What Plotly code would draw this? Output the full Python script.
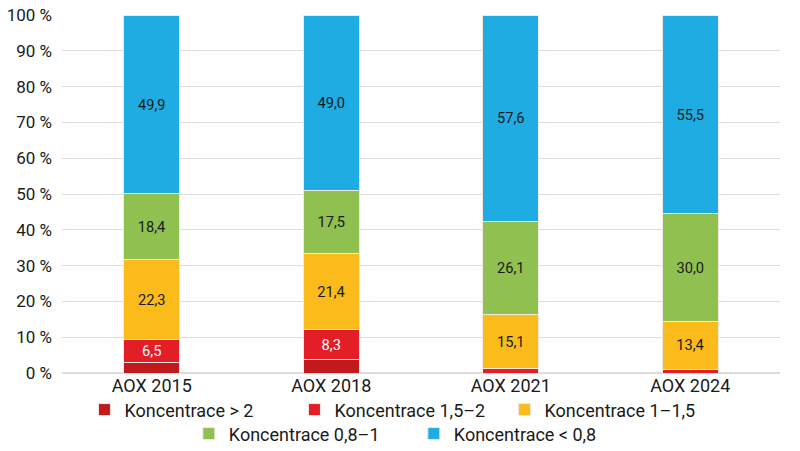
import plotly.graph_objects as go

# podíly koncentrací AOX v jednotlivých letech (%)
roky = ["AOX 2015", "AOX 2018", "AOX 2021", "AOX 2024"]
nad_2 = [2.9, 3.8, 0.0, 0.0]
k_15_2 = [6.5, 8.3, 1.2, 1.1]
k_1_15 = [22.3, 21.4, 15.1, 13.4]
k_08_1 = [18.4, 17.5, 26.1, 30.0]
pod_08 = [49.9, 49.0, 57.6, 55.5]

serie = [
    ("Koncentrace > 2", nad_2, "#C1191C", "white", "legend"),
    ("Koncentrace 1,5–2", k_15_2, "#E31E26", "white", "legend"),
    ("Koncentrace 1–1,5", k_1_15, "#FBBB1A", "#1a1a1a", "legend"),
    ("Koncentrace 0,8–1", k_08_1, "#8FC050", "#1a1a1a", "legend2"),
    ("Koncentrace < 0,8", pod_08, "#1EACE3", "#1a1a1a", "legend2"),
]

FONT = "Roboto, Liberation Sans, sans-serif"

fig = go.Figure()
for jmeno, hodnoty, barva, barva_textu, leg in serie:
    popisky = [f"{v:.1f}".replace(".", ",") if v >= 5 else "" for v in hodnoty]
    fig.add_trace(go.Bar(
        x=roky, y=hodnoty, name=jmeno,
        marker=dict(color=barva, line=dict(color="#f3e9e3", width=1)),
        text=popisky, textposition="inside", insidetextanchor="middle",
        textfont=dict(color=barva_textu, size=17, family=FONT),
        legend=leg, hoverinfo="name+y",
    ))

leg_styl = dict(orientation="h", xanchor="center", yanchor="middle",
                font=dict(size=18, family=FONT, color="#1a1a1a"),
                entrywidthmode="pixels",
                traceorder="normal", bgcolor="rgba(0,0,0,0)")

fig.update_layout(
    barmode="stack",
    bargap=0.69,
    width=800, height=451,
    margin=dict(l=62, r=20, t=15, b=78, autoexpand=False),
    plot_bgcolor="white", paper_bgcolor="white",
    font=dict(family=FONT, size=17, color="#1a1a1a"),
    uniformtext=dict(minsize=10, mode="show"),
    legend=dict(x=0.47, y=-0.103, entrywidth=165, **leg_styl),
    legend2=dict(x=0.49, y=-0.170, entrywidth=180, **leg_styl),
)
fig.update_yaxes(range=[0, 100], dtick=10, ticksuffix=" %",
                 showgrid=True, gridcolor="#dcdcdc", gridwidth=1,
                 zeroline=True, zerolinecolor="#dcdcdc",
                 tickfont=dict(size=17), ticklen=0, ticklabelstandoff=9)
fig.update_xaxes(showline=False, tickfont=dict(size=18))

# bez okraje stránky, aby graf seděl na celé okno
fig.write_html("out.html", config={"displayModeBar": False},
               post_script="document.body.style.margin='0';")
